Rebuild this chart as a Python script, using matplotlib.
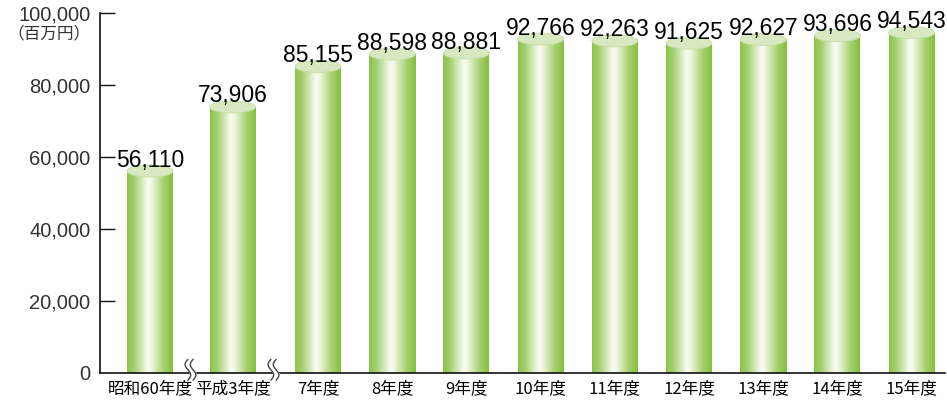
import matplotlib
matplotlib.use("Agg")
import matplotlib.pyplot as plt
import numpy as np
from matplotlib.colors import LinearSegmentedColormap
from matplotlib.patches import Ellipse

categories = ["昭和60年度", "平成3年度", "7年度", "8年度", "9年度", "10年度",
              "11年度", "12年度", "13年度", "14年度", "15年度"]
values = [56110, 73906, 85155, 88598, 88881, 92766, 92263, 91625, 92627, 93696, 94543]
value_labels = ["56,110", "73,906", "85,155", "88,598", "88,881", "92,766",
                "92,263", "91,625", "92,627", "93,696", "94,543"]
yticks = [0, 20000, 40000, 60000, 80000, 100000]
ytick_labels = ["0", "20,000", "40,000", "60,000", "80,000", "100,000"]
unit_label = "（百万円）"

W, H = 947, 404
fig = plt.figure(figsize=(W / 100, H / 100), dpi=100)
ax_left, ax_right, ax_top, ax_bottom = 100, 945, 13, 373
ax = fig.add_axes([ax_left / W, (H - ax_bottom) / H,
                   (ax_right - ax_left) / W, (ax_bottom - ax_top) / H])
ax.set_xlim(ax_left, ax_right)
ax.set_ylim(0, 100000)

# x positions (pixel-like data units); gaps after the first two bars (breaks)
xpos = []
for i in range(len(categories)):
    if i == 0:
        xpos.append(150.0)
    elif i == 1:
        xpos.append(232.5)
    else:
        xpos.append(318.0 + (i - 2) * 74.2)

bar_w = 46
px_per_unit = (ax_bottom - ax_top) / 100000.0
ell_h = 12 / px_per_unit

cmap = LinearSegmentedColormap.from_list(
    "cyl", [(0.0, "#8cc34a"), (0.15, "#a3cf6c"), (0.45, "#f8fbf2"),
            (0.52, "#f2f8e8"), (0.8, "#a6d16f"), (1.0, "#86bf3d")])
grad = np.linspace(0, 1, 256).reshape(1, -1)

for x, v, lab in zip(xpos, values, value_labels):
    x0, x1 = x - bar_w / 2, x + bar_w / 2
    ax.imshow(grad, cmap=cmap, extent=[x0, x1, 0, v], aspect="auto",
              interpolation="bicubic", zorder=2)
    ax.add_patch(Ellipse((x, v), bar_w, ell_h, facecolor="#d8e9c2",
                         edgecolor="#c5dea6", linewidth=0.6, zorder=3))
    ax.text(x, v + 4.5 / px_per_unit, lab, ha="center", va="baseline",
            fontsize=16.5, family=["Liberation Sans", "DejaVu Sans"],
            color="#000000", zorder=4)

ax.set_xlim(ax_left, ax_right)
ax.set_ylim(0, 100000)

for s in ["top", "right"]:
    ax.spines[s].set_visible(False)
for s in ["left", "bottom"]:
    ax.spines[s].set_linewidth(1.2)
    ax.spines[s].set_color("#111111")

ax.set_yticks(yticks)
ax.set_yticklabels(ytick_labels, family=["Liberation Sans", "DejaVu Sans"],
                   fontsize=14.5, color="#333333")
ax.tick_params(axis="y", direction="in", length=11, width=1.0, pad=7,
               color="#111111")
ax.set_xticks(xpos)
ax.set_xticklabels(categories, family=["Noto Sans CJK JP", "DejaVu Sans"],
                   fontsize=12, color="#000000")
ax.tick_params(axis="x", length=0, pad=5)

ax.yaxis.get_major_ticks()[0].tick1line.set_visible(False)

# break marks
t = np.linspace(0, 1, 60)
for bx in [190.5, 273.5]:
    ys = 3.8e3 - t * 5.8e3
    xs_l = bx - 2.6 - 2.8 * np.sin(2 * np.pi * t)
    xs_r = bx + 2.6 - 2.8 * np.sin(2 * np.pi * t)
    ax.fill_betweenx(ys, xs_l, xs_r, color="white", zorder=5, clip_on=False)
    for xs in (xs_l, xs_r):
        ax.plot(xs, ys, color="#444444", linewidth=1.0, clip_on=False,
                zorder=6, solid_capstyle="round")

fig.text(90 / W, 1 - 34 / H, unit_label, ha="right", va="center",
         fontsize=12, family=["Noto Sans CJK JP", "DejaVu Sans"], color="#333333")

fig.savefig("out.png", dpi=100)
